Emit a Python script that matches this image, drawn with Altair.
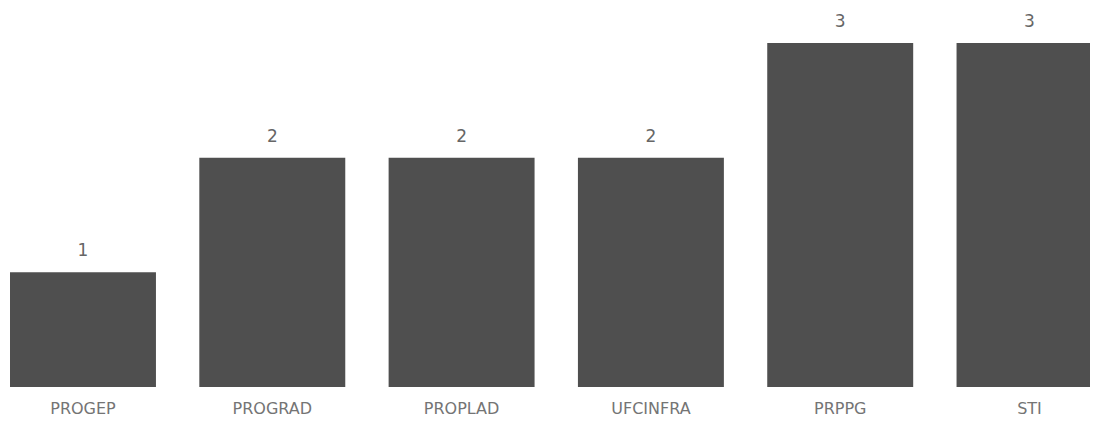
import altair as alt
import pandas as pd

categories = ["PROGEP", "PROGRAD", "PROPLAD", "UFCINFRA", "PRPPG", "STI"]
values = [1, 2, 2, 2, 3, 3]

df = pd.DataFrame({"cat": categories, "val": values})

x = alt.X("cat:N", sort=categories, title=None,
          scale=alt.Scale(range=[2, 1094.5], paddingInner=0.229, paddingOuter=0),
          axis=alt.Axis(labelAngle=0, ticks=False, domain=False, grid=False,
                        labelFont="DejaVu Sans", labelFontSize=16, labelColor="#747474",
                        labelPadding=13, labelBaseline="top"))
y = alt.Y("val:Q", title=None, scale=alt.Scale(domain=[0, 3.305], nice=False, zero=True), axis=None)

bars = alt.Chart(df).mark_bar(color="#4f4f4f").encode(x=x, y=y)
labels = alt.Chart(df).mark_text(baseline="alphabetic", dy=-16, font="DejaVu Sans", fontSize=17,
                                 color="#666666").encode(x=x, y=y, text="val:Q")

chart = (bars + labels).properties(
    width=1082, height=379,
    padding={"left": 0, "top": 0, "right": 0, "bottom": 31},
    autosize=alt.AutoSizeParams(type="none"),
).configure_view(stroke=None)

chart.save("out.html", embed_options={"renderer": "svg", "actions": False})
